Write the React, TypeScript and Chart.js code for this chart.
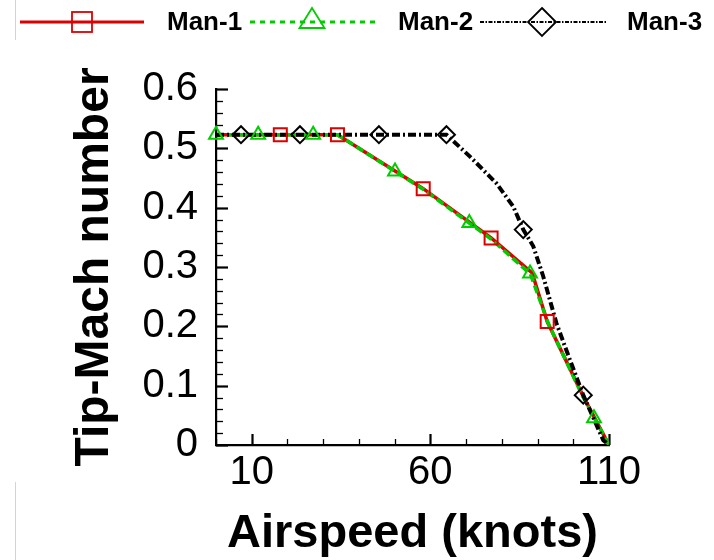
import { useEffect, useRef } from 'react';
import { Chart, registerables } from 'chart.js';

Chart.register(...registerables);

// ---- Data ----
const seriesNames = ['Man-1', 'Man-2', 'Man-3'];

// Man-1 (red, solid, squares)
const man1LineX = [0, 34, 58, 77, 88.5, 92.7, 102.8, 110];
const man1LineY = [0.523, 0.523, 0.432, 0.349, 0.29, 0.208, 0.082, 0];
const man1MarkX = [18, 34, 58, 77, 92.7];
const man1MarkY = [0.523, 0.523, 0.432, 0.349, 0.208];

// Man-2 (green, dashed, triangles)
const man2LineX = [0, 34, 58, 77, 88, 93, 102.8, 110];
const man2LineY = [0.523, 0.523, 0.431, 0.347, 0.288, 0.205, 0.08, 0];
const man2MarkX = [0, 11.8, 27.2, 50.1, 70.9, 87.9, 105.8];
const man2MarkY = [0.523, 0.523, 0.523, 0.461, 0.374, 0.289, 0.045];

// Man-3 (black, dash-dot, diamonds)
const man3LineX = [0, 64.5, 71.1, 78.5, 83.2, 86, 88.8, 91.6, 95.3, 99.1, 102.8, 108.4, 110];
const man3LineY = [0.523, 0.523, 0.486, 0.441, 0.402, 0.363, 0.335, 0.284, 0.205, 0.143, 0.084, 0.008, 0];
const man3MarkX = [7, 23.5, 45.6, 64.5, 86, 102.8];
const man3MarkY = [0.523, 0.523, 0.523, 0.523, 0.363, 0.084];

const xLabelValues = [10, 60, 110];
const xMin = 0, xMax = 110, xStep = 10;
const yMin = 0, yMax = 0.6, yStep = 0.1, yMinorStep = 0.02;

const xTitle = 'Airspeed (knots)';
const yTitle = 'Tip-Mach number';

// ---- Styles ----
const RED = '#dc0000';
const GREEN = '#00cc00';
const BLACK = '#000000';
const FONT = "'Liberation Sans', Arial, Helvetica, sans-serif";

const pts = (xs: number[], ys: number[]) => xs.map((x, i) => ({ x, y: ys[i] }));

const inwardTicks = {
  id: 'inwardTicks',
  beforeDatasetsDraw(chart: any) {
    const { ctx, scales } = chart;
    const xs = scales.x, ys = scales.y;
    const left = chart.chartArea.left;
    const bottom = chart.chartArea.bottom;
    ctx.save();
    ctx.strokeStyle = BLACK;
    const nY = Math.round((yMax - yMin) / yMinorStep);
    for (let i = 0; i <= nY; i++) {
      const v = yMin + i * yMinorStep;
      const major = i % Math.round(yStep / yMinorStep) === 0;
      const py = Math.round(ys.getPixelForValue(v)) + 0.5;
      ctx.lineWidth = major ? 2.2 : 1.3;
      ctx.beginPath();
      ctx.moveTo(left, py);
      ctx.lineTo(left + (major ? 12 : 7), py);
      ctx.stroke();
    }
    const nX = Math.round((xMax - xMin) / xStep);
    for (let i = 0; i <= nX; i++) {
      const v = xMin + i * xStep;
      const major = xLabelValues.includes(v);
      const px = Math.round(xs.getPixelForValue(v)) + 0.5;
      ctx.lineWidth = major ? 2.2 : 1.3;
      ctx.beginPath();
      ctx.moveTo(px, bottom);
      ctx.lineTo(px, bottom - (major ? 11 : 6));
      ctx.stroke();
    }
    ctx.restore();
  },
};

const customLegend = {
  id: 'customLegend',
  afterDraw(chart: any) {
    const { ctx } = chart;
    ctx.save();
    // faint frame remnants
    ctx.strokeStyle = '#d4d4d4';
    ctx.lineWidth = 1;
    ctx.beginPath();
    ctx.moveTo(15.5, 0);
    ctx.lineTo(15.5, 40);
    ctx.moveTo(15.5, 482);
    ctx.lineTo(15.5, 560);
    ctx.stroke();

    const y = 22;
    ctx.font = `bold 26px ${FONT}`;
    ctx.textBaseline = 'middle';
    ctx.textAlign = 'left';
    ctx.fillStyle = BLACK;

    // Man-1
    ctx.strokeStyle = RED;
    ctx.lineWidth = 3;
    ctx.setLineDash([]);
    ctx.beginPath();
    ctx.moveTo(20, y);
    ctx.lineTo(144, y);
    ctx.stroke();
    ctx.lineWidth = 1.8;
    ctx.strokeRect(72, 12, 20, 20);
    ctx.fillText(seriesNames[0], 167, y + 1);

    // Man-2
    ctx.strokeStyle = GREEN;
    ctx.lineWidth = 3;
    ctx.setLineDash([5, 5]);
    ctx.beginPath();
    ctx.moveTo(250, y);
    ctx.lineTo(376, y);
    ctx.stroke();
    ctx.setLineDash([]);
    ctx.lineWidth = 1.8;
    ctx.beginPath();
    ctx.moveTo(312, 8);
    ctx.lineTo(324.5, 28);
    ctx.lineTo(299.5, 28);
    ctx.closePath();
    ctx.stroke();
    ctx.fillText(seriesNames[1], 398, y + 1);

    // Man-3
    ctx.strokeStyle = BLACK;
    ctx.lineWidth = 2;
    ctx.setLineDash([4, 1.5, 1.5, 1.5]);
    ctx.beginPath();
    ctx.moveTo(480, y);
    ctx.lineTo(606, y);
    ctx.stroke();
    ctx.setLineDash([]);
    ctx.lineWidth = 1.8;
    ctx.beginPath();
    ctx.moveTo(542, y - 14);
    ctx.lineTo(556, y);
    ctx.lineTo(542, y + 14);
    ctx.lineTo(528, y);
    ctx.closePath();
    ctx.stroke();
    ctx.fillText(seriesNames[2], 627, y + 1);
    ctx.restore();
  },
};

export default function App() {
  const ref = useRef<HTMLCanvasElement>(null);

  useEffect(() => {
    if (!ref.current) return;
    Chart.defaults.font.family = FONT;
    const lineBase = { showLine: true, pointRadius: 0, fill: false, tension: 0 };
    const markBase = { showLine: false, borderWidth: 2, backgroundColor: 'rgba(255,255,255,0)', clip: false as any, order: 0 };
    const chart = new Chart(ref.current, {
      type: 'scatter',
      data: {
        datasets: [
          { ...lineBase, label: seriesNames[0], data: pts(man1LineX, man1LineY), borderColor: RED, borderWidth: 3.5, order: 3 } as any,
          { ...lineBase, label: seriesNames[1], data: pts(man2LineX, man2LineY), borderColor: GREEN, borderWidth: 3.5, borderDash: [8, 4], order: 2 } as any,
          { ...lineBase, label: seriesNames[2], data: pts(man3LineX, man3LineY), borderColor: BLACK, borderWidth: 4, borderDash: [8, 3, 2, 3], order: 1 } as any,
          { ...markBase, label: seriesNames[0] + ' markers', data: pts(man1MarkX, man1MarkY), pointStyle: 'rect', pointRadius: 9.2, borderColor: RED } as any,
          { ...markBase, label: seriesNames[1] + ' markers', data: pts(man2MarkX, man2MarkY), pointStyle: 'triangle', pointRadius: 8, borderColor: GREEN } as any,
          { ...markBase, label: seriesNames[2] + ' markers', data: pts(man3MarkX, man3MarkY), pointStyle: 'rectRot', pointRadius: 8.5, borderColor: BLACK } as any,
        ],
      },
      options: {
        responsive: false,
        animation: false,
        events: [],
        layout: { padding: { top: 89, right: 105, left: 0, bottom: 0 } },
        plugins: { legend: { display: false }, tooltip: { enabled: false } },
        scales: {
          x: {
            type: 'linear',
            min: xMin,
            max: xMax,
            grid: { display: false, drawTicks: false },
            border: { display: true, color: BLACK, width: 2.2 },
            ticks: {
              stepSize: xStep,
              autoSkip: false,
              maxRotation: 0,
              padding: 4,
              color: BLACK,
              font: { size: 40 },
              callback: (v: any) => (xLabelValues.includes(Math.round(Number(v))) ? String(Math.round(Number(v))) : ''),
            },
            title: {
              display: true,
              text: xTitle,
              color: BLACK,
              font: { size: 47, weight: 'bold', lineHeight: 1.1 },
              padding: 0,
            },
            afterFit: (s: any) => { s.height = 115; },
          },
          y: {
            type: 'linear',
            min: yMin,
            max: yMax,
            grid: { display: false, drawTicks: false },
            border: { display: true, color: BLACK, width: 2.2 },
            ticks: {
              stepSize: yStep,
              padding: 18,
              color: BLACK,
              font: { size: 40 },
              callback: (v: any) => (Number(v) === 0 ? '0' : Number(v).toFixed(1)),
            },
            title: {
              display: true,
              text: yTitle,
              color: BLACK,
              font: { size: 48, weight: 'bold', lineHeight: 1.2 },
              padding: { top: 66, bottom: 0 },
            },
            afterFit: (s: any) => { s.width = 216; },
          },
        },
      },
      plugins: [inwardTicks, customLegend],
    });
    return () => chart.destroy();
  }, []);

  return (
    <div style={{ position: 'absolute', left: 0, top: 0, width: 714, height: 560, background: '#fff' }}>
      <canvas ref={ref} width={714} height={560} style={{ display: 'block' }} />
    </div>
  );
}
